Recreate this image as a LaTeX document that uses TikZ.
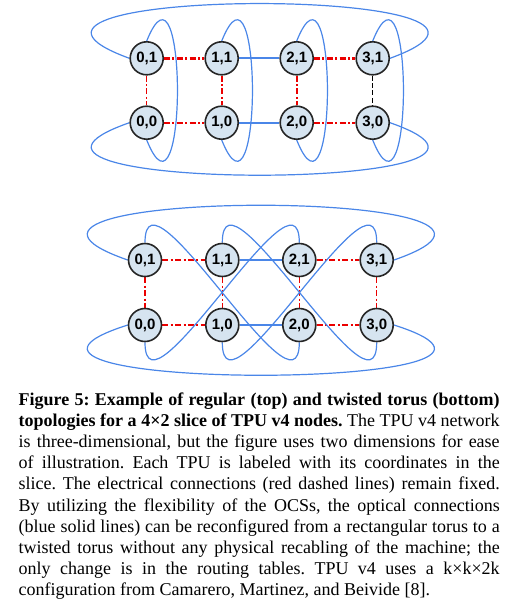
\documentclass[tikz,border=0pt]{standalone}
\usepackage{fontspec}
\setmainfont{Liberation Serif}
\newfontfamily\labelfont{Liberation Sans}
\usetikzlibrary{backgrounds}
\definecolor{optblue}{RGB}{74,134,232}
\definecolor{elecred}{RGB}{235,0,0}
\definecolor{tpufill}{RGB}{214,228,240}
\tikzset{
  tpu/.style={circle,draw=black!85,line width=0.8pt,fill=tpufill,minimum size=16.5pt,inner sep=0pt,
    font=\labelfont\bfseries\fontsize{7.5}{8}\selectfont},
  elec/.style={draw=elecred,line width=0.7pt,dash pattern=on 3pt off 1.2pt on 1pt off 1.2pt},
  electhick/.style={elec,line width=1.2pt},
  elecblack/.style={draw=black,line width=0.5pt,dash pattern=on 2.5pt off 1.2pt},
  optical/.style={draw=optblue,line width=0.6pt},
  opticalthick/.style={optical,line width=1.1pt},
}

\begin{document}
\begin{tikzpicture}[x=0.5pt,y=-0.5pt]
  \useasboundingbox (0,0) rectangle (520,601); % 与原图同尺寸

  % regular torus (top)
  \node[tpu] (r01) at (146.7,58.3) {0,1};
  \node[tpu] (r11) at (221.7,58.3) {1,1};
  \node[tpu] (r21) at (296.7,58.3) {2,1};
  \node[tpu] (r31) at (372.7,58.3) {3,1};
  \node[tpu] (r00) at (146.7,122.7) {0,0};
  \node[tpu] (r10) at (221.7,122.7) {1,0};
  \node[tpu] (r20) at (296.7,122.7) {2,0};
  \node[tpu] (r30) at (372.7,122.7) {3,0};

  % twisted torus (bottom)
  \node[tpu] (t01) at (145,260) {0,1};
  \node[tpu] (t11) at (222.3,260) {1,1};
  \node[tpu] (t21) at (299.3,260) {2,1};
  \node[tpu] (t31) at (376.7,260) {3,1};
  \node[tpu] (t00) at (145,325) {0,0};
  \node[tpu] (t10) at (222.3,325) {1,0};
  \node[tpu] (t20) at (299.3,325) {2,0};
  \node[tpu] (t30) at (376.7,325) {3,0};

  \begin{scope}[on background layer]
    % electrical links
    \draw[electhick] (r01) -- (r11);
    \draw[electhick] (r21) -- (r31);
    \draw[electhick] (r00) -- (r10);
    \draw[electhick] (r20) -- (r30);
    \draw[elec] (r01) -- (r00);
    \draw[electhick] (r11) -- (r10);
    \draw[electhick] (r21) -- (r20);
    \draw[elecblack] (r31) -- (r30);
    % optical links
    \draw[opticalthick] (r11) -- (r21);
    \draw[opticalthick] (r10) -- (r20);
    \draw[optical] (r01.west) .. controls +(-200,-73) and +(200,-73) .. (r31.east);
    \draw[optical] (r00.west) .. controls +(-200,70) and +(200,70) .. (r30.east);
    \draw[optical] (r01.north) .. controls +(41,-102) and +(41,102) .. (r00.south);
    \draw[optical] (r11.north) .. controls +(41,-102) and +(41,102) .. (r10.south);
    \draw[optical] (r21.north) .. controls +(41,-102) and +(41,102) .. (r20.south);
    \draw[optical] (r31.north) .. controls +(41,-102) and +(41,102) .. (r30.south);

    % electrical links
    \draw[elec] (t01) -- (t11);
    \draw[elec] (t21) -- (t31);
    \draw[electhick] (t00) -- (t10);
    \draw[electhick] (t20) -- (t30);
    \draw[elec] (t01) -- (t00);
    \draw[elec] (t11) -- (t10);
    \draw[elec] (t21) -- (t20);
    \draw[elec] (t31) -- (t30);
    % optical links, twisted
    \draw[optical] (t11) -- (t21);
    \draw[opticalthick] (t10) -- (t20);
    \draw[optical] (t01.west) .. controls +(-210,-73) and +(210,-73) .. (t31.east);
    \draw[optical] (t00.west) .. controls +(-210,67) and +(210,67) .. (t30.east);
    \draw[optical] (t01.north) .. controls +(0,-88) and +(0,88) .. (t20.south);
    \draw[optical] (t11.north) .. controls +(0,-88) and +(0,88) .. (t30.south);
    \draw[optical] (t21.north) .. controls +(0,-88) and +(0,88) .. (t00.south);
    \draw[optical] (t31.north) .. controls +(0,-88) and +(0,88) .. (t10.south);
  \end{scope}

  % caption
  \node[anchor=base west,inner sep=0pt,text width=240.5pt,align=justify,
    font=\fontsize{9}{10.53}\selectfont] (caption) at (18.3,405.7)
  {\frenchspacing\hyphenpenalty=10000\tolerance=10000
   \textbf{Figure 5: Example of regular (top) and twisted torus (bottom)}\linebreak
   \textbf{topologies for a 4×2 slice of TPU v4 nodes.} The TPU v4 network\linebreak
   is three-dimensional, but the figure uses two dimensions for ease\linebreak
   of illustration. Each TPU is labeled with its coordinates in the\linebreak
   slice. The electrical connections (red dashed lines) remain fixed.\linebreak
   By utilizing the flexibility of the OCSs, the optical connections\linebreak
   (blue solid lines) can be reconfigured from a rectangular torus to a\linebreak
   twisted torus without any physical recabling of the machine; the\linebreak
   only change is in the routing tables. TPU v4 uses a k×k×2k\linebreak
   configuration from Camarero, Martinez, and Beivide [8].};
\end{tikzpicture}
\end{document}
